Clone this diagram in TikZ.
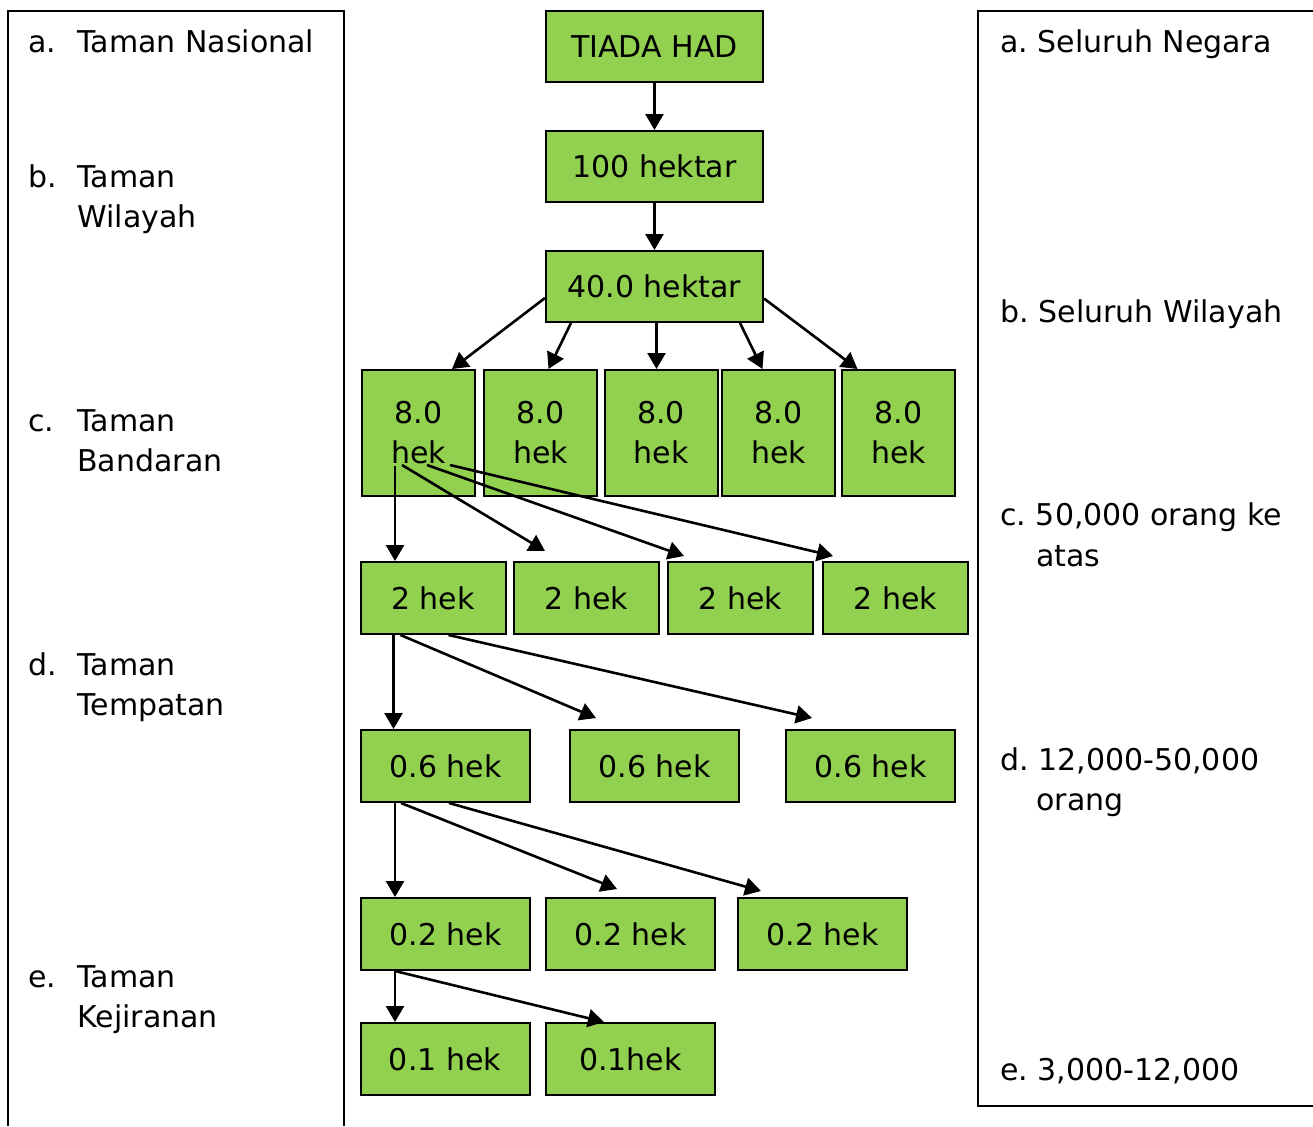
\documentclass[tikz,border=0pt]{standalone}
\usepackage{fontspec}
\setmainfont{DejaVu Sans}
\usetikzlibrary{arrows.meta}
\definecolor{hijau}{HTML}{92D050}
\frenchspacing

\begin{document}
\begin{tikzpicture}[x=0.5pt,y=-0.5pt,
		kotak/.style={draw,line width=1pt,fill=hijau,inner sep=0pt,align=center,font=\fontsize{15}{20}\selectfont},
		besar/.style={minimum width=108.5pt,minimum height=35.5pt},
		tinggi/.style={minimum width=56.5pt,minimum height=63pt},
		sedang/.style={minimum width=72.5pt,minimum height=36pt},
		lebar/.style={minimum width=84.5pt,minimum height=36pt},
		label/.style={inner sep=0pt,anchor=base west,font=\fontsize{15}{20}\selectfont},
		panah/.style={line width=1.3pt,-{Triangle[length=8pt,width=9pt]}}]
		\useasboundingbox (0,0) rectangle (1313,1126);
		%draw frames
		\draw[line width=1pt] (8,1126) -- (8,11) -- (344,11) -- (344,1126);
		\draw[line width=1pt] (1313,11) -- (978,11) -- (978,1106) -- (1313,1106);
		%draw left labels
		\node[label] (ka) at (28,52) {a.};
		\node[label] (ta) at (77,52) {Taman Nasional};
		\node[label] (kb) at (28,187) {b.};
		\node[label] (tb1) at (77,187) {Taman};
		\node[label] (tb2) at (77,227) {Wilayah};
		\node[label] (kc) at (28,431) {c.};
		\node[label] (tc1) at (77,431) {Taman};
		\node[label] (tc2) at (77,471) {Bandaran};
		\node[label] (kd) at (28,675) {d.};
		\node[label] (td1) at (77,675) {Taman};
		\node[label] (td2) at (77,715) {Tempatan};
		\node[label] (ke) at (28,987) {e.};
		\node[label] (te1) at (77,987) {Taman};
		\node[label] (te2) at (77,1027) {Kejiranan};
		%draw right labels
		\node[label] (ra) at (1000,52) {a. Seluruh Negara};
		\node[label] (rb) at (1000,322) {b. Seluruh Wilayah};
		\node[label] (rc1) at (1000,525) {c. 50,000 orang ke};
		\node[label] (rc2) at (1036,566) {atas};
		\node[label] (rd1) at (1000,770) {d. 12,000-50,000};
		\node[label] (rd2) at (1036,810) {orang};
		\node[label] (re) at (1000,1080) {e. 3,000-12,000};
		%draw boxes
		\node[kotak,besar] (t1) at (654.5,46.5) {TIADA HAD};
		\node[kotak,besar] (t2) at (654.5,166.5) {100 hektar};
		\node[kotak,besar] (t3) at (654.5,286.5) {40.0 hektar};
		\foreach \x [count=\i] in {418.5,540.5,661,778.5,898.5}{
			\node[kotak,tinggi] (h\i) at (\x,433) {8.0\\hek};
		}
		\foreach \x [count=\i] in {433,586.5,740.5,895.5}{
			\node[kotak,sedang] (k\i) at (\x,598) {2 hek};
		}
		\foreach \x [count=\i] in {445.5,654.5,870.5}{
			\node[kotak,lebar] (m\i) at (\x,766) {0.6 hek};
		}
		\foreach \x [count=\i] in {445.5,630.5,822.5}{
			\node[kotak,lebar] (p\i) at (\x,934) {0.2 hek};
		}
		\node[kotak,lebar] (q1) at (445,1059) {0.1 hek};
		\node[kotak,lebar] (q2) at (630.5,1059) {0.1hek};
		%draw arrows
		\draw[panah] (t1) -- (t2);
		\draw[panah] (t2) -- (t3);
		\draw[panah] ([yshift=-5.75pt]t3.west) -- ([xshift=16.75pt]h1.north);
		\draw[panah] ([xshift=13pt]t3.south west) -- ([xshift=4pt]h2.north);
		\draw[panah] ([xshift=1pt]t3.south) -- ([xshift=1pt]t3.south |- h3.north);
		\draw[panah] ([xshift=-12pt]t3.south east) -- ([xshift=-8pt]h4.north);
		\draw[panah] ([yshift=-6pt]t3.east) -- ([xshift=-20.5pt]h5.north);
		%fan out of first 8.0 hek
		\coordinate (h1a) at (395,466);
		\coordinate (h1b) at (402,465);
		\coordinate (h1c) at (427,465);
		\coordinate (h1d) at (450,465);
		\draw[panah] (h1a) -- (h1a |- k1.north);
		\draw[panah] (h1b) -- ([xshift=16pt,yshift=5pt]k2.north west);
		\draw[panah] (h1c) -- ([xshift=8.5pt,yshift=2.5pt]k3.north west);
		\draw[panah] (h1d) -- ([xshift=5.5pt,yshift=2.5pt]k4.north west);
		%fan out of first 2 hek
		\draw[panah] ([xshift=17pt]k1.south west) -- ([xshift=17pt]k1.south west |- m1.north);
		\draw[panah] ([xshift=20.5pt]k1.south west) -- ([xshift=13.5pt,yshift=5.5pt]m2.north west);
		\draw[panah] ([xshift=44.5pt]k1.south west) -- ([xshift=13.5pt,yshift=5.5pt]m3.north west);
		%fan out of first 0.6 hek
		\draw[panah] ([xshift=17.5pt]m1.south west) -- ([xshift=17.5pt]m1.south west |- p1.north);
		\draw[panah] ([xshift=20.5pt]m1.south west) -- ([xshift=36pt,yshift=4pt]p2.north west);
		\draw[panah] ([xshift=44.5pt]m1.south west) -- ([xshift=12pt,yshift=3pt]p3.north west);
		%fan out of first 0.2 hek
		\draw[panah] ([xshift=17.5pt]p1.south west) -- ([xshift=17.5pt]p1.south west |- q1.north);
		\draw[panah] ([xshift=17.5pt]p1.south west) -- ([xshift=29.5pt]q2.north west);
		
\end{tikzpicture}
\end{document}
